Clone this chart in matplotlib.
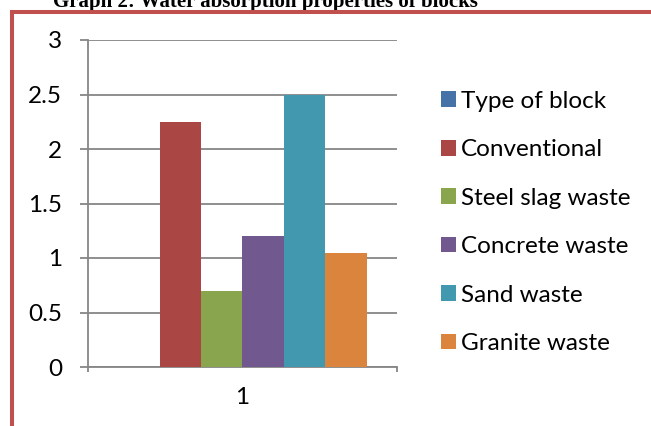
import matplotlib
matplotlib.use("Agg")
import matplotlib.pyplot as plt
from matplotlib.lines import Line2D

categories = ['1']
series = ['Type of block', 'Conventional', 'Steel slag waste', 'Concrete waste', 'Sand waste', 'Granite waste']
values = [0, 2.25, 0.7, 1.2, 2.5, 1.05]
colors = ['#4572A7', '#AA4643', '#89A54E', '#71588F', '#4198AF', '#DB843D']
yticks = [0, 0.5, 1, 1.5, 2, 2.5, 3]
ytick_labels = ['0', '0.5', '1', '1.5', '2', '2.5', '3']

W, H = 651, 426
fig = plt.figure(figsize=(W / 100, H / 100), dpi=100)
fig.patch.set_facecolor('white')
font = 'Lato'
fs = 17.5

# red frame (only top and left edges are visible in the crop)
fig.add_artist(Line2D([11.5 / W, 1.01], [1 - 11.5 / H, 1 - 11.5 / H], color='#C0504D', lw=2.9,
                      transform=fig.transFigure, solid_capstyle='projecting'))
fig.add_artist(Line2D([11.5 / W, 11.5 / W], [-0.01, 1 - 11.5 / H], color='#C0504D', lw=2.9,
                      transform=fig.transFigure, solid_capstyle='projecting'))

# title is cut by the top edge in the reference
fig.text(265 / W, 1 - 6.5 / H, 'Graph 2: Water absorption properties of blocks', ha='center', va='baseline',
         fontsize=15, fontweight='bold', family='Liberation Serif', zorder=0)

x0, x1, y0, y1 = 88, 397, 367, 40
ax = fig.add_axes([x0 / W, 1 - y0 / H, (x1 - x0) / W, (y0 - y1) / H])

bw = 248 / 309 / len(series)
handles = []
for i, (name, v, c) in enumerate(zip(series, values, colors)):
    b = ax.bar(1 + (i - (len(series) - 1) / 2) * bw, v, width=bw, color=c, label=name, zorder=3)
    handles.append(b)

ax.set_xlim(0.5, 1.5)
ax.set_ylim(0, 3)
ax.set_yticks(yticks)
ax.set_yticklabels(ytick_labels, family=font, fontsize=fs)
ax.set_xticks([0.5, 1.5])
ax.set_xticklabels(['', ''])
ax.text(1, -0.284, categories[0], ha='center', va='center', family=font, fontsize=fs)
ax.grid(axis='y', color='#868686', lw=1.3, zorder=0)
for s in ['top', 'right']:
    ax.spines[s].set_visible(False)
for s in ['left', 'bottom']:
    ax.spines[s].set_color('#868686')
    ax.spines[s].set_linewidth(1.3)
ax.tick_params(axis='y', length=5.8, width=1.3, color='#868686', pad=13)
ax.tick_params(axis='x', length=3.6, width=1.3, color='#868686')

leg = fig.legend(handles=handles, labels=series, loc='upper left', bbox_to_anchor=(431 / W, 1 - 81 / H),
                 frameon=False, prop={'family': font, 'size': fs}, handlelength=0.62, handleheight=0.62,
                 handletextpad=0.22, labelspacing=1.13, borderaxespad=0)

fig.savefig('out.png', dpi=100)
